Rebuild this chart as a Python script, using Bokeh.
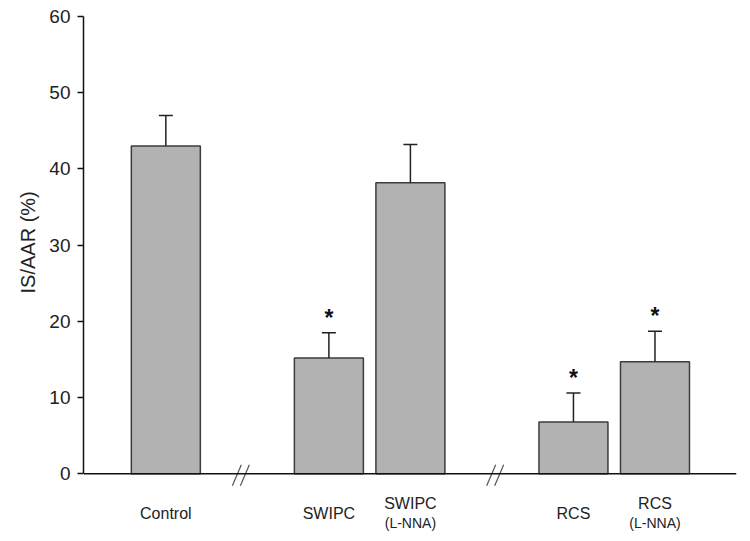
from bokeh.plotting import figure
from bokeh.models import Range1d, FixedTicker, Span, Title
from bokeh.core.properties import value
from bokeh.embed import file_html
from bokeh.resources import INLINE

# ---- data ----
categories = ["Control", "SWIPC", "SWIPC", "RCS", "RCS"]
sublabels = ["", "", "(L-NNA)", "", "(L-NNA)"]
positions = [0, 2, 3, 5, 6]
means = [43.0, 15.2, 38.2, 6.8, 14.7]
err_upper = [47.0, 18.5, 43.2, 10.6, 18.7]
significant = [False, True, False, True, True]
y_ticks = [0, 10, 20, 30, 40, 50, 60]
y_label = "IS/AAR (%)"
axis_breaks = [0.92, 4.04]

FONT = "Liberation Sans"
Y0, Y1 = -8.5, 60
FRAME_H = 522
PX_PER_UNIT = FRAME_H / (Y1 - Y0)   # vertical pixels per data unit
X0, X1 = -1.01, 7.0
FRAME_W = 653
XPX = FRAME_W / (X1 - X0)           # horizontal pixels per data unit

p = figure(width=83 + FRAME_W + 6, height=16 + FRAME_H,
           x_range=Range1d(X0, X1), y_range=Range1d(Y0, Y1),
           x_axis_type=None, output_backend="svg", toolbar_location=None,
           min_border_left=83, min_border_right=6, min_border_top=16, min_border_bottom=0)
p.outline_line_color = None
p.ygrid.grid_line_color = None
p.background_fill_color = "white"
p.border_fill_color = "white"

# bars
p.vbar(x=positions, top=means, bottom=0, width=69 / XPX,
       fill_color="#b2b2b2", line_color="#3c3c3c", line_width=1.5)

# error bars (upper only)
cap = 7 / XPX
p.segment(x0=positions, y0=means, x1=positions, y1=err_upper,
          line_color="#222222", line_width=1.5)
p.segment(x0=[x - cap for x in positions], y0=err_upper,
          x1=[x + cap for x in positions], y1=err_upper,
          line_color="#222222", line_width=1.5)

# significance asterisks
sx = [x for x, s in zip(positions, significant) if s]
sy = [e + 15 / PX_PER_UNIT for e, s in zip(err_upper, significant) if s]
p.text(x=sx, y=sy, text=["*"] * len(sx), text_align="center", text_baseline="alphabetic",
       text_font=value(FONT), text_font_size="23px", text_font_style="bold",
       text_color="#111111")

# x axis line at zero
p.add_layout(Span(location=0, dimension="width", line_color="#111111", line_width=1.5))

# axis break marks
hw = 4.5 / XPX
gap = 8 / XPX
yb, yt = -12 / PX_PER_UNIT, 9 / PX_PER_UNIT
bx0, bx1, by0, by1 = [], [], [], []
for b in axis_breaks:
    for off in (-gap / 2, gap / 2):
        c = b + off
        bx0.append(c - hw); by0.append(yb)
        bx1.append(c + hw); by1.append(yt)
p.segment(x0=bx0, y0=by0, x1=bx1, y1=by1, line_color="#555555", line_width=1.2)

# y axis
ax = p.yaxis[0]
ax.bounds = (0, 60)
ax.ticker = FixedTicker(ticks=y_ticks)
ax.major_tick_out = 6
ax.major_tick_in = 0
ax.minor_tick_out = 0
ax.minor_tick_in = 0
ax.axis_line_width = 1.5
ax.axis_line_color = "#111111"
ax.major_tick_line_width = 1.5
ax.major_tick_line_color = "#111111"
ax.major_label_text_font = FONT
ax.major_label_text_font_size = "19px"
ax.major_label_text_color = "#222222"
ax.major_label_standoff = 7

# y axis title (placed as a side title so it centres on the 0-60 span)
p.add_layout(Title(text=y_label, align="left", offset=245, vertical_align="bottom",
                   standoff=16, text_font=FONT, text_font_size="20px",
                   text_font_style="normal", text_color="#222222"), "left")

# category labels
single_x = [x for x, s in zip(positions, sublabels) if not s]
single_t = [n for n, s in zip(categories, sublabels) if not s]
double_x = [x for x, s in zip(positions, sublabels) if s]
double_t = [n for n, s in zip(categories, sublabels) if s]
double_s = [s for s in sublabels if s]

p.text(x=single_x, y=[-40 / PX_PER_UNIT] * len(single_x), text=single_t,
       text_align="center", text_baseline="middle", text_font=value(FONT),
       text_font_size="16px", text_color="#222222")
p.text(x=double_x, y=[-30 / PX_PER_UNIT] * len(double_x), text=double_t,
       text_align="center", text_baseline="middle", text_font=value(FONT),
       text_font_size="16px", text_color="#222222")
p.text(x=double_x, y=[-49 / PX_PER_UNIT] * len(double_x), text=double_s,
       text_align="center", text_baseline="middle", text_font=value(FONT),
       text_font_size="14px", text_color="#222222")

open("out.html", "w").write(file_html(p, INLINE))
